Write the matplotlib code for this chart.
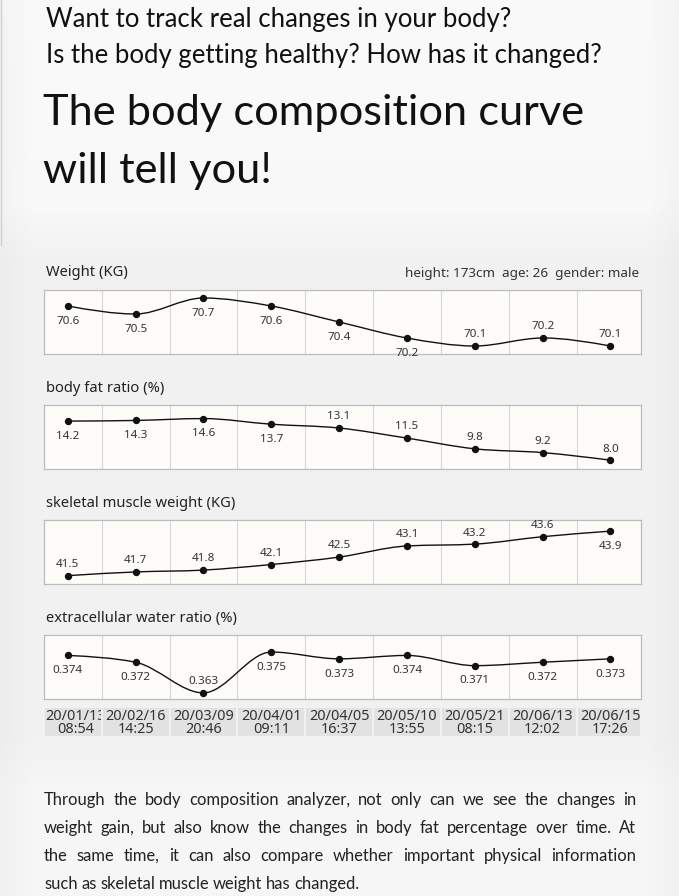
import matplotlib
matplotlib.use('Agg')
import matplotlib.pyplot as plt
from matplotlib.path import Path
from matplotlib.patches import PathPatch, Rectangle
from matplotlib.transforms import Bbox, TransformedBbox
import numpy as np

W, H = 679, 896

# data
dates = ['20/01/13', '20/02/16', '20/03/09', '20/04/01', '20/04/05', '20/05/10',
         '20/05/21', '20/06/13', '20/06/15']
times = ['08:54', '14:25', '20:46', '09:11', '16:37', '13:55', '08:15', '12:02', '17:26']
weight = [70.6, 70.5, 70.7, 70.6, 70.4, 70.2, 70.1, 70.2, 70.1]
body_fat = [14.2, 14.3, 14.6, 13.7, 13.1, 11.5, 9.8, 9.2, 8.0]
muscle = [41.5, 41.7, 41.8, 42.1, 42.5, 43.1, 43.2, 43.6, 43.9]
water = [0.374, 0.372, 0.363, 0.375, 0.373, 0.374, 0.371, 0.372, 0.373]

titles = ['Weight (KG)', 'body fat ratio (%)', 'skeletal muscle weight (KG)',
          'extracellular water ratio (%)']
info = 'height: 173cm  age: 26  gender: male'

head1 = 'Want to track real changes in your body?'
head2 = 'Is the body getting healthy? How has it changed?'
big1 = 'The body composition curve'
big2 = 'will tell you!'
para = ['Through the body composition analyzer, not only can we see the changes in',
        'weight gain, but also know the changes in body fat percentage over time. At',
        'the same time, it can also compare whether important physical information',
        'such as skeletal muscle weight has changed.']

# b = label below point, a = above
sides = [list('bbbbbbaaa'), list('bbbbaaaaa'), list('aaaaaaaab'), list('bbabbbbbb')]
ylims = [(70.0, 70.8), (6.6, 16.75), (41.05, 44.5), (0.3612, 0.3800)]
fmts = ['%.1f', '%.1f', '%.1f', '%.3f']
series = [weight, body_fat, muscle, water]

fig = plt.figure(figsize=(W / 100, H / 100), dpi=100, facecolor='#f1f1f1')

def px_axes(left, top, width, height):
    return fig.add_axes([left / W, 1 - (top + height) / H, width / W, height / H])

# soft page background: whiter at the top and bottom, grey behind the charts
bg = px_axes(0, 0, W, H)
bg.axis('off')
yy = np.linspace(0, H, 200)
shade = np.interp(yy, [0, 200, 260, 740, 790, H], [0.975, 0.972, 0.945, 0.945, 0.962, 0.962])
xx = np.linspace(0, W, 200)
edge = np.interp(xx, [0, 30, W - 30, W], [-0.02, 0, 0, -0.02])
img = np.clip(shade[:, None] + edge[None, :], 0, 1)
bg.imshow(img, cmap='gray', vmin=0, vmax=1, aspect='auto', extent=(0, W, H, 0))
bg.set_xlim(0, W)
bg.set_ylim(H, 0)
bg.plot([1.2, 1.2], [0, 245], color='#d0d0d0', lw=1.0)

def monotone_path(x, y):
    x = np.asarray(x, float)
    y = np.asarray(y, float)
    n = len(x)
    h = np.diff(x)
    s = np.diff(y) / h
    t = np.zeros(n)
    for i in range(1, n - 1):
        p = (s[i - 1] * h[i] + s[i] * h[i - 1]) / (h[i - 1] + h[i])
        t[i] = (np.sign(s[i - 1]) + np.sign(s[i])) * min(abs(s[i - 1]), abs(s[i]), 0.5 * abs(p))
    t[0] = (3 * s[0] - t[1]) / 2
    t[-1] = (3 * s[-1] - t[-2]) / 2
    verts = [(x[0], y[0])]
    codes = [Path.MOVETO]
    for i in range(n - 1):
        dx = h[i] / 3
        verts += [(x[i] + dx, y[i] + dx * t[i]), (x[i + 1] - dx, y[i + 1] - dx * t[i + 1]),
                  (x[i + 1], y[i + 1])]
        codes += [Path.CURVE4] * 3
    return Path(verts, codes)

chart_font = ['Noto Sans', 'DejaVu Sans']
head_font = ['Lato', 'DejaVu Sans']

xs = np.arange(len(dates))
xlim = (-0.35, 8.45)
box_left, box_w, box_h = 44, 597, 64

for k in range(4):
    top = 290 + 115 * k
    ax = px_axes(box_left, top, box_w, box_h)
    ax.set_facecolor('#fdfcf9')
    ax.set_xlim(*xlim)
    ax.set_ylim(*ylims[k])
    ax.set_xticks([])
    ax.set_yticks([])
    for sp in ax.spines.values():
        sp.set_color('#bcbcbc')
        sp.set_linewidth(0.9)
    for i in range(len(dates) - 1):
        ax.axvline(i + 0.5, color='#d6d6d6', lw=0.8, zorder=1)
    ax.add_patch(PathPatch(monotone_path(xs, series[k]), fill=False, ec='#111111', lw=1.0, zorder=3))
    ax.plot(xs, series[k], 'o', color='#111111', ms=4.3, zorder=4)
    for i, v in enumerate(series[k]):
        off = -11 if sides[k][i] == 'b' else 8
        ax.annotate(fmts[k] % v, (i, v), xytext=(0, off), textcoords='offset points',
                    ha='center', va='center', fontsize=8.4, color='#333333', family=chart_font)
    fig.text(46 / W, 1 - (top - 17) / H, titles[k], ha='left', va='center',
             fontsize=10.6, color='#222222', family=chart_font)

fig.text(639 / W, 1 - 273 / H, info, ha='right', va='center', fontsize=9.7,
         color='#333333', family=chart_font)

# date cells
dax = px_axes(box_left, 708, box_w, 28)
dax.set_xlim(*xlim)
dax.set_ylim(0, 1)
dax.axis('off')
gap = 1.0 / 67.86
r = fig.canvas.get_renderer()
for i in range(len(dates)):
    l = max(i - 0.5, xlim[0]) + gap
    r_ = min(i + 0.5, xlim[1]) - gap
    rect = Rectangle((l, 0), r_ - l, 1, facecolor='#e2e2e2', edgecolor='none')
    dax.add_patch(rect)
    clip = TransformedBbox(Bbox([[l, 0], [r_, 1]]), dax.transData)
    t = dax.text(i, 0.47, dates[i] + '\n' + times[i], ha='center', va='center',
                 multialignment='center', fontsize=10.4, color='#333333',
                 linespacing=0.82, family=chart_font)
    # text wider than its cell starts at the cell's left edge
    if t.get_window_extent(r).width > clip.width:
        t.set_x(l + 0.01)
        t.set_ha('left')
    t.set_clip_box(clip)
    t.set_clip_on(True)

# headlines
fig.text(46 / W, 1 - 20 / H, head1, ha='left', va='center', fontsize=18.5, color='#111111',
         family=head_font)
fig.text(46 / W, 1 - 55 / H, head2, ha='left', va='center', fontsize=18.5, color='#111111',
         family=head_font)
fig.text(43 / W, 1 - 113 / H, big1, ha='left', va='center', fontsize=31.2, color='#111111',
         family=head_font)
fig.text(43 / W, 1 - 171 / H, big2, ha='left', va='center', fontsize=31.2, color='#111111',
         family=head_font)

# justified paragraph
x0, x1 = 44, 636
for j, line in enumerate(para):
    y = 1 - (800 + 28 * j) / H
    words = line.split()
    ts = [fig.text(0, y, w, ha='left', va='center', fontsize=11.9, color='#222222',
                   family=head_font) for w in words]
    ws = [t.get_window_extent(r).width for t in ts]
    if j < len(para) - 1:
        g = (x1 - x0 - sum(ws)) / (len(words) - 1)
    else:
        g = 3.6
    x = x0
    for t, w in zip(ts, ws):
        t.set_x(x / W)
        x += w + g

fig.savefig('out.png', dpi=100, facecolor=fig.get_facecolor())
